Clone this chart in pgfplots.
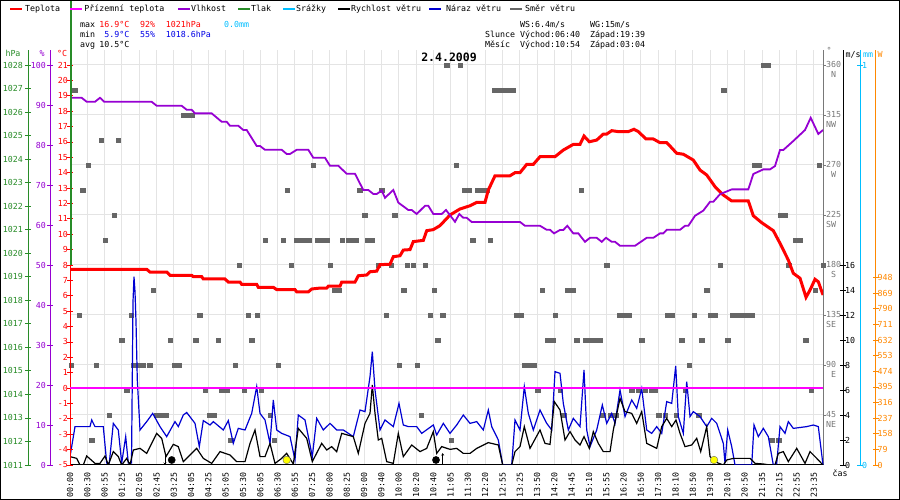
\documentclass[border=0pt]{standalone}
\usepackage{fontspec}
\setmainfont{DejaVu Sans Mono}
\usepackage{pgfplots}
\pgfplotsset{compat=1.18}
\usetikzlibrary{arrows.meta}
\definecolor{cT}{RGB}{255,0,0}
\definecolor{cPT}{RGB}{255,0,255}
\definecolor{cH}{RGB}{150,0,210}
\definecolor{cP}{RGB}{40,140,40}
\definecolor{cR}{RGB}{0,190,255}
\definecolor{cG}{RGB}{0,0,210}
\definecolor{cD}{RGB}{102,102,102}
\definecolor{cDax}{RGB}{120,120,120}
\definecolor{cW}{RGB}{255,136,0}
\definecolor{cGrid}{RGB}{228,228,228}
\definecolor{cMin}{RGB}{0,0,230}
\definecolor{cSun}{RGB}{255,255,0}
\newcommand\fs{\fontsize{8.3bp}{10bp}\selectfont}
\pgfplotsset{
  every axis/.append style={scale only axis, height=415bp, anchor=south west, clip=true,
     tick label style={font=\fs}, major tick length=6bp, tick align=center},
}
\begin{document}
\fs
\begin{tikzpicture}[x=1bp,y=1bp]
\fill[white] (0,0) rectangle (900,500);

% ---------- grid + wind direction ----------
\begin{axis}[at={(70bp,35bp)}, width=753bp, xmin=0, xmax=753, ymin=0, ymax=373.5,
  axis x line*=bottom, axis y line*=right,
  x axis line style={black, line width=1bp},
  y axis line style={cDax, line width=1bp},
  xtick={0,17.3,...,745},
  xticklabels={00:00,00:30,00:55,01:25,02:05,02:45,03:25,04:05,04:25,05:05,05:30,06:05,06:30,06:55,07:25,08:00,08:25,09:00,09:40,10:00,10:20,10:40,11:05,11:30,12:20,12:55,13:25,13:50,14:20,14:45,15:10,15:55,16:20,16:50,17:30,18:10,18:50,19:30,20:10,20:50,21:35,22:15,22:55,23:35},
  xmajorgrids, ymajorgrids, grid style={cGrid, line width=1bp},
  xtick style={draw=none},
  ytick={45,90,...,360},
  yticklabels={{45\\NE},{90\\\hphantom{0}E},{135\\SE},{180\\\hphantom{0}S},{225\\SW},{270\\\hphantom{0}W},{315\\NW},{360\\\hphantom{0}N}},
  ytick style={cDax, line width=0.8bp}, tick align=outside, major tick length=3bp,
  xticklabel style={rotate=90, anchor=east, inner xsep=4bp, inner ysep=0bp},
  yticklabel style={text=cDax, align=left, anchor=north west, inner sep=0bp, yshift=4bp},
]
\addplot[color=cD, only marks, mark=square*, mark size=2.3bp, mark options={solid, draw=cD, fill=cD, line width=0.1bp}] coordinates {
(376.7,360)(390,360)(693,360)(698,360)
(4.7,337.5)(424,337.5)(429,337.5)(434,337.5)(438,337.5)(443,337.5)(653.3,337.5)
(113.3,315)(117.3,315)(122,315)
(31,292.5)(48,292.5)
(18,270)(243,270)(386,270)(684,270)(689,270)(749,270)
(12.7,247.5)(217,247.5)(289.7,247.5)(311.7,247.5)(394,247.5)(399,247.5)(407,247.5)(412,247.5)(416.7,247.5)(511,247.5)
(44,225)(294.7,225)(324.7,225)(710,225)(715,225)
(35,202.5)(195,202.5)(213,202.5)(226,202.5)(231,202.5)(235,202.5)(239,202.5)(247,202.5)(252,202.5)(256.7,202.5)(272,202.5)(278,202.5)(281,202.5)(286,202.5)(297,202.5)(302,202.5)(402.7,202.5)(420,202.5)(725,202.5)(730,202.5)
(169,180)(221,180)(260,180)(308,180)(321,180)(337,180)(343,180)(355,180)(536.7,180)(650,180)(718.3,180)(753,180)
(83,157.5)(264,157.5)(268.7,157.5)(333.7,157.5)(364,157.5)(472,157.5)(497.7,157.5)(502.7,157.5)(636.7,157.5)(745,157.5)
(9,135)(61,135)(129.7,135)(178,135)(187,135)(316,135)(360,135)(372.7,135)(446,135)(451,135)(485,135)(549,135)(554,135)(559,135)(597,135)(602,135)(624,135)(640,135)(645,135)(662,135)(667,135)(672,135)(677,135)(681.7,135)
(51.7,112.5)(100,112.5)(125.7,112.5)(148,112.5)(181.7,112.5)(367.3,112.5)(477,112.5)(482.7,112.5)(506.7,112.5)(515,112.5)(520,112.5)(525,112.5)(530,112.5)(571.7,112.5)(611.7,112.5)(631.7,112.5)(657.7,112.5)(735.7,112.5)
(1,90)(26,90)(63.3,90)(68,90)(73,90)(79.3,90)(104,90)(109,90)(165,90)(208,90)(329,90)(347,90)(454.3,90)(460,90)(464,90)(619,90)
(56.7,67.5)(135,67.5)(151.7,67.5)(156.7,67.5)(174,67.5)(191,67.5)(467.7,67.5)(490,67.5)(561.7,67.5)(568.3,67.5)(575,67.5)(581.7,67.5)(585,67.5)(615,67.5)(741,67.5)
(39,45)(86.7,45)(91.7,45)(96,45)(139,45)(143.3,45)(200,45)(351,45)(493.3,45)(532.3,45)(540,45)(545.7,45)(588.3,45)(595,45)(606,45)(628.3,45)
(21.7,22.5)(160.7,22.5)(204,22.5)(381,22.5)(701.7,22.5)(708.3,22.5)
};
\end{axis}

% ---------- W axis ----------
\begin{axis}[at={(70bp,35bp)}, width=805.5bp, xmin=0, xmax=805.5, ymin=0, ymax=2100,
  axis x line=none, axis y line*=right,
  y axis line style={cW, line width=1bp},
  ytick={0,79,...,948}, yticklabels={0,79,158,237,316,395,474,553,632,711,790,869,948},
  ytick style={cW, line width=0.8bp},
  yticklabel style={text=cW, anchor=west, inner sep=0bp, xshift=-1bp}]
\end{axis}

% ---------- mm axis (precipitation) ----------
\begin{axis}[at={(70bp,35bp)}, width=790bp, xmin=0, xmax=790, ymin=0, ymax=1.0375,
  axis x line=none, axis y line*=right,
  y axis line style={cR, line width=1bp},
  ytick={0,1}, yticklabels={0,1},
  ytick style={cR, line width=0.8bp},
  yticklabel style={text=cR, anchor=west, inner sep=0bp, xshift=-1bp}]
\addplot[cR, line width=2bp, yshift=-1.5bp] coordinates {(0,0)(753,0)};
\end{axis}

% ---------- m/s axis (wind) ----------
\begin{axis}[at={(70bp,35bp)}, width=773bp, xmin=0, xmax=773, ymin=0, ymax=33.2,
  axis x line=none, axis y line*=right,
  y axis line style={black, line width=1bp},
  ytick={0,2,...,16}, yticklabels={0,2,4,6,8,10,12,14,16},
  ytick style={black, line width=0.8bp},
  yticklabel style={text=black, anchor=west, inner sep=0bp, xshift=-1bp}]
\addplot[cG, line width=1.2bp] coordinates {
(0,0.67)(1.7,1.47)(5,3.07)(20,3.07)(21.7,3.6)(25,3.07)(33.3,3.07)(36.7,0.16)(39.3,0.16)(43.3,3.33)(48.3,2.8)(51.7,0.16)(55.7,2.27)(58.3,0.16)(61.5,0.16)(63,13.06)(64,15.07)(65,13.87)(66,11.47)(67.3,6.8)(70,2.8)(76.7,3.47)(82.7,4.13)(90,3.07)(96.7,2.27)(105,3.47)(108.3,3.07)(113.3,4.0)(116.7,4.2)(125,3.33)(129.3,1.47)(133.3,3.55)(140,3.2)(143.3,3.47)(153.3,2.8)(158.3,3.55)(163.3,1.73)(168.3,2.93)(175,2.8)(181.7,4.13)(186.7,6.27)(190,4.13)(195,3.6)(200,1.73)(203.3,5.2)(206.7,2.8)(211.7,2.53)(220,2.27)(225,0.4)(228.3,4.0)(235,3.6)(242.3,0.67)(246.7,3.73)(253.3,2.8)(260,3.33)(266.7,2.8)(273.3,2.8)(283.3,2.27)(290,4.4)(295,4.27)(300,7.07)(302.3,9.07)(305,6.0)(310,2.8)(315,3.6)(323.3,3.07)(329,4.93)(333.3,3.2)(338.3,3.07)(346.7,3.07)(351.7,2.53)(363.3,3.2)(366.7,2.4)(373.3,3.33)(380,2.53)(386.7,3.2)(393.3,4.0)(400,3.33)(406.7,3.47)(413.3,2.8)(418.3,4.4)(421.7,3.07)(428.3,2.0)(432.7,0)(441.7,0)(445,3.6)(450,2.8)(454.3,6.27)(458.3,4.13)(463.3,2.8)(470,4.4)(476.7,3.33)(481.7,2.8)(485,7.47)(490,7.33)(493.3,4.93)(498.3,2.8)(503.3,3.73)(510,3.07)(514,7.6)(516.7,2.8)(520,1.47)(526.7,2.8)(532.3,4.8)(536.7,3.33)(541.7,4.13)(545,3.33)(550,6.0)(555,3.87)(561.7,5.2)(566.7,4.53)(571.7,6.13)(576.7,2.8)(581.7,2.53)(586.7,3.07)(591.7,2.53)(596.7,5.07)(601.7,4.93)(605.7,7.92)(608.3,3.87)(613.3,2.53)(616.7,6.67)(620,3.87)(623.3,4.27)(630,3.87)(636.7,3.07)(641.7,3.73)(646.7,3.33)(653.3,1.73)(655,0.13)(657.7,2.8)(661.7,1.47)(665,0)(681.7,0)(684,3.2)(688.3,2.27)(693.3,2.93)(698.3,2.27)(703.3,0)(706.7,0.13)(710,3.07)(715,2.53)(718.3,3.47)(723.3,2.93)(736.7,3.07)(743.3,3.2)(748.3,3.07)(753,0)
};
\addplot[black, line width=1.2bp] coordinates {
(0,0.67)(6.7,0.53)(10,0)(13.3,0)(16.7,0.72)(25,0.13)(30,0.13)(35,0.72)(38.3,0)(43.3,1.07)(48.3,0.67)(51.7,0)(56.7,0.53)(60,0)(63.3,1.2)(70,1.33)(76.7,0.93)(86.7,2.53)(91.7,2.13)(96,0.67)(103.3,1.65)(108.3,1.47)(113.3,0.27)(118.3,0.67)(126.7,1.33)(133.3,0.53)(141.7,0.13)(150,1.07)(160,0.8)(166.7,0.27)(175,0.27)(180,1.73)(185,2.8)(190,0.67)(195,0.67)(200,1.73)(205,0.13)(211.7,0.53)(216.7,0.93)(223.3,0.08)(228.3,2.93)(236.7,2.13)(242.3,0.27)(251.7,1.73)(256.7,1.2)(261.7,1.47)(266.7,1.07)(271.7,2.53)(283.3,2.27)(288.3,0.93)(295,3.33)(300,4.13)(302.3,6.4)(305,4.13)(308.3,2.0)(311.7,2.13)(316.7,0.27)(323.3,0.13)(328.3,2.53)(333.3,0.67)(341.7,1.6)(350,1.07)(356.7,1.33)(363.3,2.67)(366.7,0.93)(371.7,1.47)(380,1.25)(386.7,1.33)(393.3,0.93)(400,0.93)(406.7,1.33)(418.3,1.79)(428.3,1.6)(432.7,0)(441.7,0)(445,1.07)(450,1.47)(454.3,3.07)(460,1.33)(470,2.8)(475,1.73)(480,1.65)(484.3,5.07)(490,4.4)(495,2.0)(500,2.67)(505,2.0)(510,1.6)(514,2.27)(519.3,1.33)(523.3,2.67)(528.3,1.73)(533.3,1.07)(540,1.07)(543.3,2.8)(550,5.33)(555,4.27)(561.7,4.13)(566.7,3.33)(571.7,4.27)(576.7,1.73)(586.7,1.33)(591.7,3.07)(596.7,3.73)(601.7,3.07)(606,3.6)(610,2.53)(615,1.47)(621.7,1.6)(626.7,2.13)(630.7,1.07)(636.7,3.07)(640,0.67)(646.7,0.2)(653.3,0)(656.7,0.4)(663.3,0.53)(680,0.53)(685,0.13)(693.3,0.08)(700,0)(705,0)(708.3,0.93)(713.3,1.07)(718.3,0.27)(726.7,1.33)(735,0.13)(740,1.07)(746.7,0.53)(753,0)
};
% moon (black) and sun (yellow) events
\addplot[black, only marks, mark=*, mark size=3.6bp, mark options={fill=black, draw=black}] coordinates {(101.7,0.4)(366,0.4)};
\addplot[black, only marks, mark=*, mark size=3.8bp, mark options={fill=cSun, draw=black!60}] coordinates {(216.7,0.4)(644,0.4)};
\addplot[black, line width=0.8bp, -{Stealth[length=2.5bp,width=3bp]}] coordinates {(95,0.95)(95,0)};
\addplot[black, line width=0.8bp, -{Stealth[length=2.5bp,width=3bp]}] coordinates {(372.7,0)(372.7,0.95)};
\end{axis}

% ---------- temperature axis ----------
\begin{axis}[at={(70bp,35bp)}, width=753bp, xmin=0, xmax=753, ymin=-5, ymax=21.975,
  axis x line=none, axis y line*=left,
  y axis line style={cT, line width=1bp},
  ytick={-5,-4,...,21}, yticklabels={-5,-4,-3,-2,-1,0,1,2,3,4,5,6,7,8,9,10,11,12,13,14,15,16,17,18,19,20,21},
  ytick style={cT, line width=0.8bp},
  yticklabel style={text=cT, anchor=east, inner sep=0bp, xshift=1bp}]
\addplot[cPT, line width=1.3bp] coordinates {(0,0)(753,0)};
\addplot[cT, line width=3bp] coordinates {
(0,7.72)(76.7,7.72)(80,7.54)(96.7,7.54)(100,7.33)(121.7,7.33)(123.3,7.24)(131.7,7.24)(133.3,7.09)(155,7.09)(158.3,6.89)(170,6.89)(171.7,6.74)(186.7,6.74)(188.3,6.55)(203.3,6.55)(206.7,6.40)(225,6.40)(226.7,6.25)(238.3,6.25)(241.7,6.44)(250,6.50)(256.7,6.50)(258.3,6.62)(270,6.62)(271.7,6.89)(285,6.89)(288.3,7.30)(296.7,7.35)(300,7.56)(306.7,7.60)(310,8.02)(320,8.05)(323.3,8.54)(330,8.60)(333.3,8.97)(340,9.00)(343.3,9.52)(353.3,9.60)(356.7,10.23)(363.3,10.30)(370,10.56)(380,11.25)(390,11.64)(400,11.85)(406.7,12.07)(415,12.07)(418.3,12.87)(425,13.80)(440,13.80)(445,14.0)(450,14.0)(456.7,14.54)(463.3,14.54)(470,15.04)(485,15.04)(493.3,15.47)(503.3,15.84)(510,15.84)(514,16.38)(519.3,16.01)(526.7,16.12)(533.3,16.51)(536.7,16.51)(541.7,16.73)(548.3,16.67)(558.3,16.67)(564,16.82)(568.3,16.67)(576,16.19)(583.3,16.19)(590,15.95)(596.7,15.95)(600,15.73)(606.7,15.26)(613.3,15.2)(623.3,14.82)(630,14.17)(636.7,13.85)(645,13.09)(653.3,12.55)(661.7,12.16)(678.3,12.16)(683.3,11.20)(691.7,10.75)(703.3,10.23)(710,9.41)(718.3,8.32)(723.3,7.46)(730,7.14)(736,5.90)(740,6.37)(745,7.07)(748.3,6.91)(753,6.05)
};
\end{axis}

% ---------- humidity axis ----------
\begin{axis}[at={(50bp,35bp)}, width=773bp, xmin=-20, xmax=753, ymin=0, ymax=103.75,
  axis x line=none, axis y line*=left,
  y axis line style={cH, line width=1bp},
  ytick={0,10,...,100}, yticklabels={0,10,20,30,40,50,60,70,80,90,100},
  ytick style={cH, line width=0.8bp},
  yticklabel style={text=cH, anchor=east, inner sep=0bp, xshift=-1bp}]
\addplot[cH, line width=1.8bp] coordinates {
(0,91.8)(11.7,91.8)(16.7,90.8)(25,90.8)(30,91.8)(34.3,90.8)(81.7,90.8)(86.7,89.8)(111.7,89.8)(116.7,88.8)(121.7,88.8)(125,87.9)(141.7,87.9)(151.7,85.8)(156.7,85.8)(160,84.8)(168.3,84.8)(173.3,83.75)(176.7,83.75)(186.7,79.75)(190,79.75)(195,78.8)(211.7,78.8)(216.7,77.75)(220,77.75)(226.7,78.8)(238.3,78.8)(243.3,76.8)(255,76.8)(260,74.8)(268.3,74.8)(276.7,72.8)(285,72.8)(293.3,68.75)(298.3,68.75)(303.3,67.75)(306.7,67.75)(311.7,68.6)(315,66.8)(323.3,68.75)(328.3,65.6)(338.3,63.75)(341.7,63.75)(346.7,62.75)(355,64.8)(358.3,64.8)(363.3,62.75)(371.7,62.75)(376,63.75)(385,60.8)(389.3,62.75)(393.3,61.8)(396.7,61.8)(401.7,60.75)(450,60.75)(455,59.8)(470,59.8)(476.7,58.8)(480,58.8)(484,57.9)(490,58.75)(493.3,58.75)(497.3,59.8)(503.3,57.9)(508.3,57.9)(515,55.8)(520,56.8)(526.7,56.8)(531.7,55.8)(536,56.8)(541.7,55.8)(545,55.8)(550,54.8)(565,54.8)(576.7,56.8)(583.3,56.8)(590,57.9)(593.3,57.9)(596.7,58.8)(610,58.8)(615,59.8)(618.3,59.8)(625,62.3)(633.3,63.6)(640,65.8)(643.3,65.8)(650,67.7)(661.7,68.9)(678.3,68.9)(683.3,72.75)(693.3,73.9)(700,73.9)(705,74.75)(710,78.75)(713.3,78.75)(723.3,81)(735,83.75)(740.7,86.8)(748.3,82.75)(753,83.75)
};
\end{axis}

% ---------- pressure axis ----------
\begin{axis}[at={(28bp,35bp)}, width=795bp, xmin=-42, xmax=753, ymin=1011, ymax=1028.6375, clip=false,
  axis x line=none, axis y line*=left,
  y axis line style={cP, line width=1bp},
  ytick={1011,1012,...,1028}, yticklabels={1011,1012,1013,1014,1015,1016,1017,1018,1019,1020,1021,1022,1023,1024,1025,1026,1027,1028},
  ytick style={cP, line width=0.8bp},
  yticklabel style={text=cP, anchor=east, inner sep=0bp, xshift=-2bp}]
\addplot[cP, line width=1.3bp] coordinates {(1,1019.5)(1,1030.7)};
\end{axis}

% ---------- legend ----------
\draw[cT, line width=2.5bp] (10,491)--(22,491);
\node[anchor=base west, inner sep=0] at (25,488) {Teplota};
\draw[cPT, line width=2.5bp] (70,491)--(82,491);
\node[anchor=base west, inner sep=0] at (84.3,488) {Přízemní teplota};
\draw[cH, line width=2.5bp] (178,491)--(190,491);
\node[anchor=base west, inner sep=0] at (191,488) {Vlhkost};
\draw[cP, line width=2.5bp] (238,491)--(250,491);
\node[anchor=base west, inner sep=0] at (251,488) {Tlak};
\draw[cR, line width=2.5bp] (283,491)--(295,491);
\node[anchor=base west, inner sep=0] at (296,488) {Srážky};
\draw[black, line width=2.5bp] (338,491)--(350,491);
\node[anchor=base west, inner sep=0] at (351,488) {Rychlost větru};
\draw[cG, line width=2.5bp] (429,491)--(441,491);
\node[anchor=base west, inner sep=0] at (446,488) {Náraz větru};
\draw[cD, line width=2.5bp] (510,491)--(522,491);
\node[anchor=base west, inner sep=0] at (525,488) {Směr větru};

% ---------- statistics ----------
\node[anchor=base west, inner sep=0] at (80,472.7) {max};
\node[anchor=base east, inner sep=0, text=cT] at (129.5,472.7) {16.9°C};
\node[anchor=base west, inner sep=0, text=cT] at (140,472.7) {92\%};
\node[anchor=base west, inner sep=0, text=cT] at (165.7,472.7) {1021hPa};
\node[anchor=base west, inner sep=0, text=cR] at (224,472.7) {0.0mm};
\node[anchor=base west, inner sep=0] at (80,462.7) {min};
\node[anchor=base east, inner sep=0, text=cMin] at (129.5,462.7) {5.9°C};
\node[anchor=base west, inner sep=0, text=cMin] at (140,462.7) {55\%};
\node[anchor=base west, inner sep=0, text=cMin] at (165.7,462.7) {1018.6hPa};
\node[anchor=base west, inner sep=0] at (80,452.7) {avg};
\node[anchor=base east, inner sep=0] at (129.5,452.7) {10.5°C};
\node[anchor=base west, inner sep=0] at (520,472.7) {WS:6.4m/s};
\node[anchor=base west, inner sep=0] at (590,472.7) {WG:15m/s};
\node[anchor=base west, inner sep=0] at (485,462.7) {Slunce};
\node[anchor=base west, inner sep=0] at (520,462.7) {Východ:06:40};
\node[anchor=base west, inner sep=0] at (590,462.7) {Západ:19:39};
\node[anchor=base west, inner sep=0] at (485,452.7) {Měsíc};
\node[anchor=base west, inner sep=0] at (520,452.7) {Východ:10:54};
\node[anchor=base west, inner sep=0] at (590,452.7) {Západ:03:04};

% ---------- title and unit headers ----------
\node[anchor=base, inner sep=0, font=\fontsize{11.5bp}{12bp}\selectfont\bfseries] at (449,438) {2.4.2009};
\node[anchor=base, inner sep=0, text=cP] at (13,443) {hPa};
\node[anchor=base, inner sep=0, text=cH] at (42,443) {\%};
\node[anchor=base, inner sep=0, text=cT] at (62,443) {°C};
\node[anchor=base, inner sep=0, text=cDax] at (829,446) {°};
\node[anchor=base, inner sep=0] at (853,442) {m/s};
\node[anchor=base, inner sep=0, text=cR] at (868,442) {mm};
\node[anchor=base, inner sep=0, text=cW] at (880,442) {W};
\node[anchor=base, inner sep=0] at (840,23) {čas};

\draw[black, line width=1bp] (0.5,0.5) rectangle (899.5,499.5);
\pgfresetboundingbox
\path[use as bounding box] (0,0) rectangle (900,500);
\end{tikzpicture}
\end{document}
